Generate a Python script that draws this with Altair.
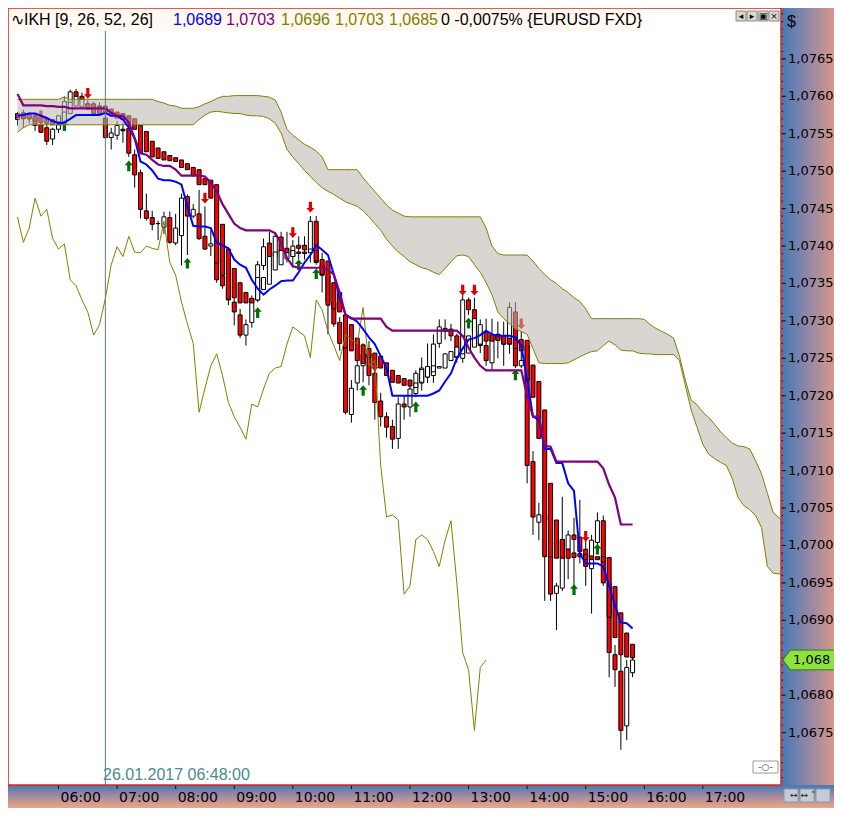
import altair as alt
import pandas as pd

W, H = 773, 777
PR, PB = 53, 23

FIRST_BAR_MIN = 318     # first bar 05:18
BAR_MIN = 6             # 6-minute bars
CHIKOU_SHIFT = 25
CROSS_MIN = 408         # crosshair 06:48
CROSS_TEXT = "26.01.2017 06:48:00"

opens = [1.07569,1.07574,1.07570,1.07571,1.07562,1.07558,1.07543,1.07556,1.07564,1.07591,
         1.07606,1.07600,1.07590,1.07588,1.07587,1.07571,1.07545,1.07548,1.07556,1.07557,
         1.07522,1.07498,1.07447,1.07438,1.07430,1.07425,1.07438,1.07404,1.07414,1.07466,
         1.07440,1.07443,1.07413,1.07400,1.07400,1.07360,1.07342,1.07325,1.07308,1.07281,
         1.07298,1.07328,1.07374,1.07404,1.07386,1.07412,1.07397,1.07386,1.07401,1.07401,
         1.07392,1.07433,1.07375,1.07361,1.07325,1.07298,1.07270,1.07175,1.07217,1.07240,
         1.07256,1.07230,1.07193,1.07172,1.07159,1.07143,1.07189,1.07185,1.07203,1.07217,
         1.07225,1.07227,1.07270,1.07290,1.07289,1.07280,1.07250,1.07328,1.07315,1.07286,
         1.07267,1.07244,1.07282,1.07280,1.07269,1.07312,1.07240,1.07267,1.07112,1.07031,
         1.07041,1.07034,1.06936,1.06943,1.06995,1.07014,1.07011,1.06995,1.06969,1.07004,
         1.07033,1.06950,1.06854,1.06832,1.06759,1.06830]
highs = [1.07579,1.07582,1.07579,1.07577,1.07567,1.07564,1.07558,1.07574,1.07600,1.07609,
         1.07610,1.07605,1.07595,1.07593,1.07592,1.07577,1.07558,1.07567,1.07564,1.07564,
         1.07529,1.07502,1.07470,1.07447,1.07434,1.07446,1.07446,1.07443,1.07470,1.07469,
         1.07456,1.07475,1.07453,1.07421,1.07404,1.07365,1.07347,1.07341,1.07316,1.07302,
         1.07334,1.07380,1.07410,1.07419,1.07419,1.07419,1.07419,1.07408,1.07413,1.07413,
         1.07440,1.07440,1.07391,1.07371,1.07331,1.07305,1.07286,1.07221,1.07247,1.07270,
         1.07273,1.07243,1.07204,1.07178,1.07168,1.07198,1.07200,1.07217,1.07234,1.07251,
         1.07270,1.07282,1.07302,1.07302,1.07296,1.07283,1.07335,1.07331,1.07331,1.07302,
         1.07303,1.07303,1.07299,1.07299,1.07325,1.07325,1.07286,1.07273,1.07126,1.07057,
         1.07064,1.07044,1.06950,1.07065,1.07020,1.07037,1.07061,1.07011,1.07014,1.07044,
         1.07040,1.06984,1.06867,1.06854,1.06847,1.06867]
lows = [1.07561,1.07558,1.07564,1.07554,1.07551,1.07535,1.07535,1.07551,1.07561,1.07587,
        1.07597,1.07591,1.07582,1.07579,1.07574,1.07543,1.07529,1.07542,1.07538,1.07519,
        1.07478,1.07437,1.07434,1.07421,1.07408,1.07416,1.07403,1.07401,1.07374,1.07388,
        1.07437,1.07408,1.07395,1.07387,1.07351,1.07343,1.07321,1.07294,1.07277,1.07267,
        1.07291,1.07325,1.07368,1.07380,1.07375,1.07375,1.07378,1.07371,1.07382,1.07382,
        1.07378,1.07375,1.07338,1.07282,1.07292,1.07260,1.07175,1.07164,1.07207,1.07218,
        1.07214,1.07168,1.07159,1.07144,1.07129,1.07129,1.07168,1.07172,1.07198,1.07207,
        1.07217,1.07217,1.07264,1.07275,1.07273,1.07244,1.07244,1.07308,1.07280,1.07257,
        1.07240,1.07234,1.07250,1.07240,1.07256,1.07237,1.07237,1.07083,1.07014,1.07007,
        1.06926,1.06926,1.06887,1.06939,1.06955,1.06943,1.06976,1.06946,1.06909,1.06994,
        1.06946,1.06824,1.06811,1.06727,1.06740,1.06824]
closes = [1.07574,1.07570,1.07574,1.07561,1.07552,1.07540,1.07556,1.07562,1.07593,1.07606,
          1.07600,1.07593,1.07588,1.07588,1.07580,1.07545,1.07551,1.07561,1.07554,1.07524,
          1.07495,1.07449,1.07437,1.07429,1.07430,1.07439,1.07405,1.07424,1.07464,1.07440,
          1.07449,1.07410,1.07396,1.07403,1.07355,1.07347,1.07328,1.07312,1.07281,1.07295,
          1.07330,1.07375,1.07399,1.07386,1.07413,1.07392,1.07391,1.07400,1.07397,1.07395,
          1.07433,1.07378,1.07361,1.07325,1.07296,1.07270,1.07178,1.07210,1.07240,1.07256,
          1.07227,1.07191,1.07172,1.07158,1.07142,1.07189,1.07185,1.07209,1.07230,1.07237,
          1.07239,1.07269,1.07292,1.07286,1.07280,1.07251,1.07328,1.07315,1.07286,1.07267,
          1.07247,1.07282,1.07275,1.07269,1.07318,1.07240,1.07247,1.07107,1.07038,1.07041,
          1.07034,1.06935,1.06946,1.07008,1.07014,1.07008,1.06992,1.06972,1.07007,1.07033,
          1.06950,1.06857,1.06834,1.06753,1.06837,1.06847]

# smoothed (Heikin-Ashi style) boxes drawn over the candles
ha_open = [1.07577,1.07578,1.07577,1.07574,1.07571,1.07570,1.07569,1.07566,1.07564,1.07577,
           1.07587,1.07586,1.07590,1.07590,1.07587,1.07587,1.07583,1.07579,1.07577,1.07574,
           1.07570,1.07561,1.07553,1.07540,1.07531,1.07526,1.07521,1.07518,1.07515,1.07510,
           1.07505,1.07502,1.07490,1.07488,1.07482,1.07429,1.07396,1.07370,1.07351,1.07338,
           1.07330,1.07328,1.07342,1.07349,1.07368,1.07375,1.07383,1.07386,1.07392,1.07392,
           1.07391,1.07394,1.07382,1.07380,1.07351,1.07338,1.07308,1.07295,1.07277,1.07268,
           1.07263,1.07257,1.07253,1.07244,1.07234,1.07227,1.07223,1.07221,1.07211,1.07218,
           1.07225,1.07232,1.07237,1.07237,1.07247,1.07252,1.07256,1.07257,1.07265,1.07269,
           1.07285,1.07282,1.07282,1.07280,1.07277,1.07275,1.07275,1.07274,1.07241,1.07219,
           1.07181,1.07083,1.07034,1.07008,1.06995,1.06990,1.06989,1.06988,1.06986,1.06985,
           1.06985,1.06984,1.06945,1.06910,1.06883,1.06868]
ha_close = [1.07571,1.07571,1.07570,1.07567,1.07565,1.07564,1.07562,1.07574,1.07579,1.07592,
            1.07600,1.07596,1.07583,1.07577,1.07577,1.07579,1.07574,1.07571,1.07569,1.07564,
            1.07556,1.07524,1.07526,1.07519,1.07517,1.07515,1.07514,1.07513,1.07505,1.07502,
            1.07494,1.07482,1.07482,1.07464,1.07377,1.07361,1.07329,1.07331,1.07324,1.07324,
            1.07324,1.07358,1.07358,1.07386,1.07392,1.07394,1.07391,1.07394,1.07390,1.07390,
            1.07396,1.07380,1.07362,1.07321,1.07316,1.07312,1.07264,1.07260,1.07247,1.07243,
            1.07251,1.07240,1.07237,1.07227,1.07218,1.07217,1.07214,1.07213,1.07217,1.07235,
            1.07239,1.07240,1.07239,1.07256,1.07259,1.07265,1.07280,1.07280,1.07303,1.07295,
            1.07273,1.07273,1.07274,1.07269,1.07269,1.07263,1.07260,1.07221,1.07198,1.07143,
            1.06985,1.06985,1.06983,1.06983,1.06983,1.06984,1.06985,1.06981,1.06981,1.06981,
            1.06978,1.06904,1.06877,1.06854,1.06851,1.06850]

tenkan = [1.07574,1.07575,1.07577,1.07577,1.07574,1.07571,1.07567,1.07564,1.07565,1.07570,
          1.07575,1.07575,1.07575,1.07575,1.07575,1.07578,1.07574,1.07574,1.07569,1.07558,
          1.07544,1.07513,1.07509,1.07501,1.07490,1.07488,1.07488,1.07486,1.07482,1.07453,
          1.07427,1.07426,1.07426,1.07424,1.07405,1.07401,1.07397,1.07382,1.07375,1.07371,
          1.07355,1.07343,1.07335,1.07342,1.07347,1.07353,1.07354,1.07354,1.07365,1.07378,
          1.07388,1.07401,1.07395,1.07388,1.07362,1.07331,1.07308,1.07304,1.07299,1.07289,
          1.07278,1.07269,1.07253,1.07237,1.07200,1.07200,1.07200,1.07200,1.07200,1.07200,
          1.07200,1.07203,1.07207,1.07219,1.07230,1.07250,1.07263,1.07275,1.07277,1.07281,
          1.07287,1.07282,1.07280,1.07280,1.07280,1.07278,1.07267,1.07221,1.07172,1.07168,
          1.07129,1.07129,1.07110,1.07110,1.07083,1.07073,1.06989,1.06976,1.06976,1.06976,
          1.06972,1.06946,1.06920,1.06897,1.06896,1.06889]
kijun = [1.07603,1.07588,1.07588,1.07588,1.07588,1.07587,1.07587,1.07586,1.07586,1.07584,
         1.07584,1.07584,1.07584,1.07584,1.07584,1.07584,1.07578,1.07574,1.07574,1.07565,
         1.07544,1.07524,1.07522,1.07515,1.07509,1.07507,1.07507,1.07502,1.07494,1.07494,
         1.07494,1.07494,1.07493,1.07485,1.07473,1.07456,1.07443,1.07430,1.07424,1.07421,
         1.07421,1.07421,1.07421,1.07421,1.07417,1.07404,1.07384,1.07373,1.07371,1.07371,
         1.07371,1.07371,1.07371,1.07368,1.07362,1.07338,1.07308,1.07303,1.07303,1.07303,
         1.07303,1.07303,1.07303,1.07292,1.07287,1.07287,1.07287,1.07287,1.07287,1.07287,
         1.07287,1.07287,1.07287,1.07287,1.07287,1.07287,1.07280,1.07264,1.07251,1.07240,
         1.07234,1.07234,1.07234,1.07234,1.07234,1.07234,1.07234,1.07200,1.07172,1.07172,
         1.07133,1.07132,1.07112,1.07112,1.07112,1.07112,1.07112,1.07112,1.07112,1.07112,
         1.07103,1.07081,1.07064,1.07028,1.07028,1.07028]

# leading spans (cloud edges), 26 bars further than the price
span_top = [1.07596,1.07596,1.07596,1.07596,1.07596,1.07596,1.07596,1.07596,1.07599,1.07596,
            1.07596,1.07596,1.07596,1.07596,1.07596,1.07596,1.07596,1.07596,1.07596,1.07596,
            1.07596,1.07596,1.07596,1.07596,1.07593,1.07591,1.07588,1.07587,1.07584,1.07584,
            1.07584,1.07586,1.07590,1.07593,1.07597,1.07600,1.07600,1.07601,1.07601,1.07601,
            1.07601,1.07601,1.07600,1.07599,1.07595,1.07579,1.07556,1.07548,1.07542,1.07536,
            1.07532,1.07527,1.07519,1.07502,1.07502,1.07502,1.07502,1.07502,1.07502,1.07491,
            1.07482,1.07473,1.07464,1.07455,1.07448,1.07444,1.07440,1.07439,1.07439,1.07439,
            1.07439,1.07439,1.07439,1.07439,1.07439,1.07439,1.07439,1.07439,1.07439,1.07439,
            1.07424,1.07400,1.07390,1.07388,1.07388,1.07388,1.07388,1.07388,1.07380,1.07370,
            1.07362,1.07355,1.07350,1.07343,1.07338,1.07331,1.07326,1.07316,1.07303,1.07303,
            1.07303,1.07303,1.07303,1.07303,1.07303,1.07303,1.07303,1.07302,1.07295,1.07290,
            1.07286,1.07282,1.07277,1.07253,1.07221,1.07194,1.07188,1.07178,1.07171,1.07162,
            1.07152,1.07144,1.07137,1.07133,1.07132,1.07129,1.07113,1.07096,1.07070,1.07044,
            1.07037,1.07029]
span_bottom = [1.07552,1.07558,1.07562,1.07562,1.07562,1.07562,1.07562,1.07562,1.07562,1.07562,
               1.07562,1.07562,1.07562,1.07562,1.07562,1.07562,1.07562,1.07562,1.07562,1.07562,
               1.07562,1.07562,1.07562,1.07562,1.07562,1.07562,1.07562,1.07562,1.07562,1.07562,
               1.07562,1.07569,1.07575,1.07579,1.07580,1.07579,1.07578,1.07577,1.07577,1.07575,
               1.07574,1.07574,1.07573,1.07570,1.07564,1.07551,1.07529,1.07519,1.07510,1.07501,
               1.07493,1.07485,1.07478,1.07473,1.07469,1.07464,1.07459,1.07456,1.07453,1.07447,
               1.07439,1.07430,1.07421,1.07409,1.07400,1.07392,1.07386,1.07379,1.07375,1.07371,
               1.07369,1.07365,1.07362,1.07370,1.07379,1.07387,1.07388,1.07386,1.07375,1.07365,
               1.07351,1.07335,1.07312,1.07303,1.07296,1.07289,1.07286,1.07282,1.07263,1.07244,
               1.07243,1.07243,1.07243,1.07243,1.07244,1.07248,1.07252,1.07256,1.07259,1.07260,
               1.07267,1.07273,1.07268,1.07261,1.07260,1.07260,1.07257,1.07256,1.07256,1.07255,
               1.07255,1.07255,1.07255,1.07247,1.07214,1.07181,1.07158,1.07135,1.07122,1.07116,
               1.07111,1.07107,1.07090,1.07064,1.07053,1.07048,1.07040,1.07024,1.06972,1.06963,
               1.06962,1.06959]

up_arrow_bars = [8, 19, 29, 41, 48, 51, 59, 68, 77, 85, 95, 99]
up_arrow_price = [1.07561, 1.07507, 1.07377, 1.07311, 1.07375, 1.07363, 1.07207, 1.07185,
                  1.07297, 1.07228, 1.06941, 1.06995]
down_arrow_bars = [4, 12, 32, 47, 50, 61, 76, 78, 86, 97]
down_arrow_price = [1.07574, 1.07604, 1.07464, 1.07418, 1.07452, 1.07240, 1.07341, 1.07341,
                    1.07296, 1.07012]

hour_ticks = [360, 420, 480, 540, 600, 660, 720, 780, 840, 900, 960, 1020]
price_labels = [1.0675, 1.0680, 1.0690, 1.0695, 1.0700, 1.0705, 1.0710, 1.0715, 1.0720,
                1.0725, 1.0730, 1.0735, 1.0740, 1.0745, 1.0750, 1.0755, 1.0760, 1.0765]
minor_ticks = [round(1.0669 + 0.0001 * i, 4) for i in range(103)]

header_parts = [("\u223fIKH [9, 26, 52, 26]", 3, "black"),
                ("1,0689", 165, "#0000FF"),
                ("1,0703", 218, "#800080"),
                ("1,0696", 273, "#808000"),
                ("1,0703", 327, "#808000"),
                ("1,0685", 381, "#808000"),
                ("0 -0,0075% {EURUSD FXD}", 433, "black")]

# ---------------------------------------------------------------- frames
n = len(closes)
times = [FIRST_BAR_MIN + BAR_MIN * k for k in range(n)]
candles = pd.DataFrame({"t": times, "o": opens, "h": highs, "l": lows, "c": closes})
candles["dir"] = ["up" if c >= o else "down" for o, c in zip(opens, closes)]
ha = pd.DataFrame({"t": times, "o": ha_open, "c": ha_close})
ha["dir"] = ["up" if c > o else "down" for o, c in zip(ha_open, ha_close)]
lines = pd.DataFrame({"t": times, "tenkan": tenkan, "kijun": kijun})
cloud = pd.DataFrame({"t": [FIRST_BAR_MIN + BAR_MIN * k for k in range(len(span_top))],
                      "a": span_top, "b": span_bottom})
chikou = pd.DataFrame({"t": times[:n - CHIKOU_SHIFT], "v": closes[CHIKOU_SHIFT:]})
ups = pd.DataFrame({"t": [FIRST_BAR_MIN + BAR_MIN * k for k in up_arrow_bars], "p": up_arrow_price})
downs = pd.DataFrame({"t": [FIRST_BAR_MIN + BAR_MIN * k for k in down_arrow_bars], "p": down_arrow_price})
minor = pd.DataFrame({"p": minor_ticks})
xlab = pd.DataFrame({"t": hour_ticks, "lab": [f"{t // 60:02d}:00" for t in hour_ticks]})
ylab = pd.DataFrame({"p": price_labels, "lab": [f"{p:.4f}".replace(".", ",") for p in price_labels]})
cross = pd.DataFrame({"t": [CROSS_MIN]})
last = pd.DataFrame({"p": [closes[-1]], "txt": [f"{closes[-1]:.3f}".replace(".", ",")]})
one = pd.DataFrame({"a": [0]})

xs = alt.Scale(domain=[313.4, 1094.9], nice=False, zero=False)
ys = alt.Scale(domain=[1.0668, 1.07718], nice=False, zero=False)
FONT = "DejaVu Sans"

X = alt.X("t:Q", scale=xs, axis=None)


def Y(field):
    return alt.Y(field, scale=ys, axis=None)


def txt(text, x, y, color="black", size=16, font="Liberation Sans", align="left", baseline="middle"):
    return alt.Chart(one).mark_text(text=text, align=align, baseline=baseline, font=font,
                                    fontSize=size, color=color).encode(x=alt.value(x), y=alt.value(y))


def box(x1, x2, y1, y2, fill, stroke=None, sw=1):
    kw = {"fill": fill}
    if stroke:
        kw.update(stroke=stroke, strokeWidth=sw)
    return alt.Chart(one).mark_rect(**kw).encode(
        x=alt.value(x1), x2=alt.value(x2), y=alt.value(y1), y2=alt.value(y2))


grad_right = alt.LinearGradient(gradient="linear", x1=0, x2=1, y1=0, y2=0, stops=[
    alt.GradientStop(color="#4479B4", offset=0),
    alt.GradientStop(color="#9689A6", offset=0.55),
    alt.GradientStop(color="#D8978A", offset=1)])
grad_bottom = alt.LinearGradient(gradient="linear", x1=0, x2=0, y1=0, y2=1, stops=[
    alt.GradientStop(color="#4479B4", offset=0),
    alt.GradientStop(color="#A68CA0", offset=0.5),
    alt.GradientStop(color="#EFA582", offset=1)])

right_panel = alt.Chart(one).mark_rect(fill=grad_right).encode(
    x=alt.value(W), x2=alt.value(W + PR), y=alt.value(0), y2=alt.value(H))
bottom_panel = alt.Chart(one).mark_rect(fill=grad_bottom).encode(
    x=alt.value(0), x2=alt.value(W + PR), y=alt.value(H), y2=alt.value(H + PB))

# axis furniture drawn through the scales
minor_rules = alt.Chart(minor).mark_rule(color="#111111", strokeWidth=1).encode(
    x=alt.value(W), x2=alt.value(W + 2), y=Y("p:Q"))
y_ticks = alt.Chart(ylab).mark_rule(color="#111111", strokeWidth=1).encode(
    x=alt.value(W), x2=alt.value(W + 5), y=Y("p:Q"))
y_labels = alt.Chart(ylab).mark_text(align="left", baseline="middle", font=FONT, fontSize=13,
                                     color="black").encode(
    x=alt.value(W + 7), y=Y("p:Q"), text="lab:N")
x_ticks = alt.Chart(xlab).mark_rule(color="#111111", strokeWidth=1).encode(
    x=X, y=alt.value(H), y2=alt.value(H + 4))
x_labels = alt.Chart(xlab).mark_text(align="left", baseline="middle", dx=2, font=FONT, fontSize=14,
                                     color="black").encode(
    x=X, y=alt.value(H + 13), text="lab:N")

wicks = alt.Chart(candles).mark_rule(color="black", strokeWidth=1).encode(
    x=X, y=Y("l:Q"), y2="h:Q")
bodies = alt.Chart(candles).mark_bar(size=4, stroke="black", strokeWidth=1).encode(
    x=X, y=Y("o:Q"), y2="c:Q",
    fill=alt.Fill("dir:N", scale=alt.Scale(domain=["up", "down"], range=["#FFFFFF", "#FF0000"]),
                  legend=None))
ha_boxes = alt.Chart(ha).mark_bar(size=4, stroke="black", strokeWidth=1).encode(
    x=X, y=Y("o:Q"), y2="c:Q",
    fill=alt.Fill("dir:N", scale=alt.Scale(domain=["up", "down"], range=["#1EE61E", "#000000"]),
                  legend=None))

UP = "M0,-1L0.75,-0.15L0.3,-0.15L0.3,1L-0.3,1L-0.3,-0.15L-0.75,-0.15Z"
DOWN = "M0,1L0.75,0.15L0.3,0.15L0.3,-1L-0.3,-1L-0.3,0.15L-0.75,0.15Z"
up_marks = alt.Chart(ups).mark_point(shape=UP, filled=True, size=115, color="#006E00", opacity=1).encode(
    x=X, y=Y("p:Q"))
down_marks = alt.Chart(downs).mark_point(shape=DOWN, filled=True, size=115, color="#E00000", opacity=1).encode(
    x=X, y=Y("p:Q"))

cloud_area = alt.Chart(cloud).mark_area(fill="#BCB6AE", fillOpacity=0.56, clip=True).encode(
    x=X, y=Y("a:Q"), y2="b:Q")
cloud_a = alt.Chart(cloud).mark_line(color="#808000", strokeWidth=1, clip=True).encode(
    x=X, y=Y("a:Q"))
cloud_b = alt.Chart(cloud).mark_line(color="#808000", strokeWidth=1, clip=True).encode(
    x=X, y=Y("b:Q"))
chikou_line = alt.Chart(chikou).mark_line(color="#808000", strokeWidth=1, clip=True).encode(
    x=X, y=Y("v:Q"))
tenkan_line = alt.Chart(lines).mark_line(color="#0000FF", strokeWidth=2, clip=True).encode(
    x=X, y=Y("tenkan:Q"))
kijun_line = alt.Chart(lines).mark_line(color="#800080", strokeWidth=2.2, clip=True).encode(
    x=X, y=Y("kijun:Q"))

cross_rule = alt.Chart(cross).mark_rule(color="#5B8378", strokeWidth=1).encode(x=X)
cross_label = txt(CROSS_TEXT, 95, 767, color="#4B8A8C", size=16)

header_bg = box(0, 633, 0, 23, "#FFF9F1")
header_txt = [txt(s, x, 12, color=c, size=16) for s, x, c in header_parts]

buttons = []
for i, g in enumerate(["\u25c2", "\u25b8", "\u25a3", "\u00d7"]):
    bx = 728 + 11 * i
    buttons.append(box(bx, bx + 10, 3, 13, "#DAD6CE", "#8A8A8A"))
    buttons.append(txt(g, bx + 5, 8, size=9, font=FONT, align="center"))
grip = [box(745, 770, 753, 765, "#FFFFFF", "#9A9A9A"),
        txt("-\u25cb-", 757.5, 759, size=9, font=FONT, align="center", color="#444444")]
corner = []
for i in range(3):
    cx = W + 3 + 16 * i
    corner.append(box(cx, cx + 14, H + 4, H + 17, "#C4CCD8", "#8C96A8"))
corner.append(txt("\u2194  \u2194  \u02c4", W + 9, H + 10, size=9, font=FONT, color="#222222"))

tag = alt.Chart(last).mark_point(shape="M-1,0L-0.72,-0.38L1,-0.38L1,0.38L-0.72,0.38Z",
                                 size=52 * 52, filled=True, fill="#8EE23E", stroke="#2E7D12",
                                 strokeWidth=1, opacity=1).encode(
    x=alt.value(W + 28), y=Y("p:Q"))
tag_text = alt.Chart(last).mark_text(align="left", baseline="middle", font=FONT, fontSize=13,
                                     color="black").encode(
    x=alt.value(W + 12), y=Y("p:Q"), text="txt:N")
dollar = txt("$", W + 6, 14, size=16)
border = alt.Chart(one).mark_rect(fill="transparent", stroke="#E3241B", strokeWidth=1.5).encode(
    x=alt.value(0), x2=alt.value(W), y=alt.value(0), y2=alt.value(H))

chart = alt.layer(
    right_panel, bottom_panel, minor_rules, y_ticks, y_labels, x_ticks, x_labels,
    wicks, bodies, ha_boxes, up_marks, down_marks,
    cloud_area, cloud_a, cloud_b, chikou_line, tenkan_line, kijun_line, cross_rule, cross_label,
    header_bg, *header_txt, *buttons, *grip, *corner, tag, tag_text, dollar, border
).properties(
    width=W, height=H,
    padding={"left": 0, "top": 0, "right": PR, "bottom": PB},
    autosize=alt.AutoSizeParams(type="none"),
).configure_view(fill="#FCEACD", stroke=None).configure(background="white")

chart.save("out.html", embed_options={"renderer": "svg", "actions": False})
